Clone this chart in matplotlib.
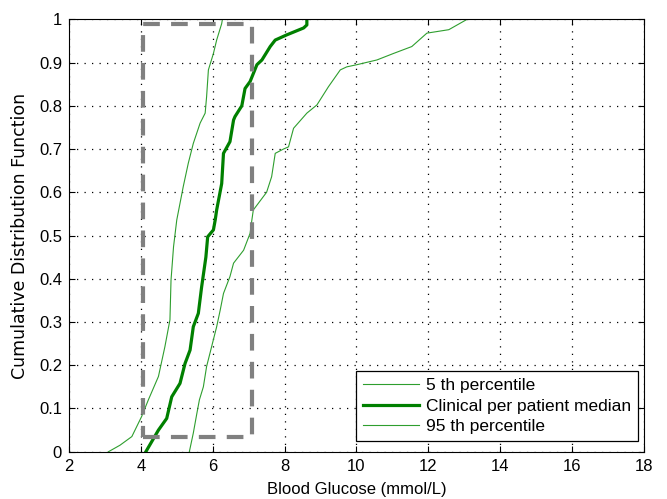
import numpy as np
import matplotlib as mpl
mpl.use("Agg")
import matplotlib.pyplot as plt

mpl.rcParams.update({"font.family": "Liberation Sans", "font.size": 12})

# curves (x in mmol/L, y = CDF)
P5_X = [3.10, 3.42, 3.75, 4.02, 4.21, 4.49, 4.67, 4.81, 4.84, 4.91, 5.00, 5.18, 5.32, 5.46,
        5.65, 5.79, 5.83, 5.88, 6.02, 6.11, 6.25, 6.27]
P5_Y = [0.0, 0.015, 0.035, 0.081, 0.12, 0.174, 0.243, 0.305, 0.397, 0.474, 0.536, 0.613, 0.667, 0.713,
        0.76, 0.783, 0.821, 0.883, 0.921, 0.952, 0.99, 1.0]

MED_X = [4.14, 4.49, 4.72, 4.86, 5.09, 5.23, 5.37, 5.46, 5.60, 5.69, 5.81, 5.86, 6.02, 6.07, 6.11,
         6.25, 6.30, 6.48, 6.58, 6.62, 6.81, 6.90, 7.04, 7.23, 7.37, 7.60, 7.74, 8.06, 8.53, 8.62, 8.62]
MED_Y = [0.0, 0.05, 0.077, 0.127, 0.158, 0.204, 0.235, 0.289, 0.32, 0.38, 0.45, 0.497, 0.513, 0.536, 0.559,
         0.62, 0.69, 0.717, 0.767, 0.775, 0.80, 0.84, 0.856, 0.895, 0.906, 0.937, 0.952, 0.964, 0.98, 0.987, 1.0]

P95_X = [5.35, 5.46, 5.56, 5.63, 5.74, 5.83, 5.97, 6.11, 6.21, 6.30, 6.48, 6.58, 6.86, 7.04, 7.09, 7.13,
         7.50, 7.64, 7.74, 7.97, 8.11, 8.25, 8.62, 8.90, 9.22, 9.55, 9.73, 10.01, 10.57, 11.03, 11.54,
         11.96, 12.57, 13.08]
P95_Y = [0.0, 0.043, 0.089, 0.12, 0.15, 0.197, 0.243, 0.289, 0.328, 0.366, 0.405, 0.436, 0.466, 0.505, 0.536, 0.559,
         0.60, 0.636, 0.69, 0.70, 0.705, 0.748, 0.783, 0.802, 0.844, 0.883, 0.89, 0.895, 0.906, 0.921, 0.937,
         0.968, 0.976, 1.0]

# target band box
BOX_X = [4.05, 7.09]
BOX_Y = [0.033, 0.99]

fig = plt.figure(figsize=(6.67, 4.99), dpi=100)
ax = fig.add_axes([0.1034, 0.0948, 0.862, 0.8665])

ax.plot(P5_X, P5_Y, color="#2e9e2e", lw=0.8, label="5 th percentile")
ax.plot(MED_X, MED_Y, color="#008000", lw=2.3, label="Clinical per patient median")
ax.plot(P95_X, P95_Y, color="#2e9e2e", lw=0.8, label="95 th percentile")

bx = [BOX_X[0], BOX_X[1], BOX_X[1], BOX_X[0], BOX_X[0]]
by = [BOX_Y[0], BOX_Y[0], BOX_Y[1], BOX_Y[1], BOX_Y[0]]
ax.plot(bx, by, color="#808080", lw=3, ls=(0, (4, 2.7)))

ax.set_xlim(2, 18)
ax.set_ylim(0, 1)
ax.set_xticks(np.arange(2, 19, 2))
ax.set_yticks(np.arange(0, 1.01, 0.1))
ax.set_yticklabels(["0", "0.1", "0.2", "0.3", "0.4", "0.5", "0.6", "0.7", "0.8", "0.9", "1"])
ax.tick_params(direction="in", top=True, right=True, length=4, pad=5)
ax.grid(True, color="black", ls=(0, (1, 5)), lw=0.9)
ax.set_xlabel("Blood Glucose (mmol/L)", labelpad=6)
ax.set_ylabel("Cumulative Distribution Function", family="DejaVu Sans", fontsize=12.5, labelpad=7)

leg = ax.legend(loc="lower right", bbox_to_anchor=(0.9896, 0.025), borderaxespad=0,
                fancybox=False, framealpha=1, edgecolor="black", fontsize=12.5,
                borderpad=0.4, handlelength=3.2, handletextpad=0.4, labelspacing=0.3)
leg.get_frame().set_linewidth(0.9)

fig.savefig("out.png", dpi=100)
